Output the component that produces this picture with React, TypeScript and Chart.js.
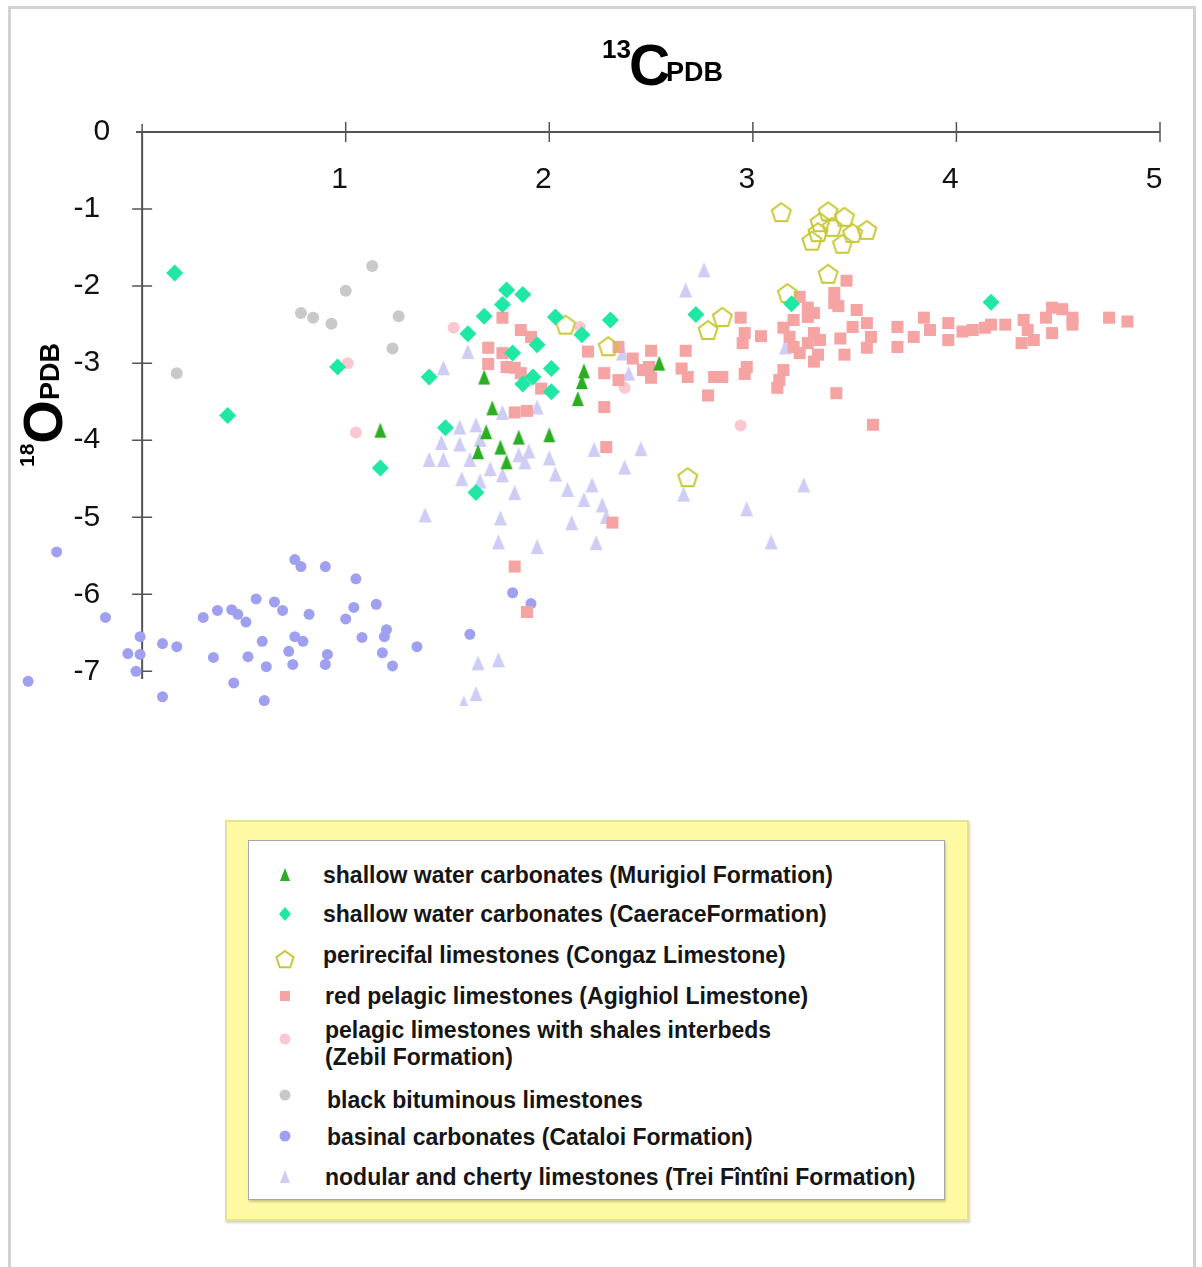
import React, { useEffect, useRef } from 'react';
import { Chart, registerables } from 'chart.js';

Chart.register(...registerables);

const FONT = '"Liberation Sans", Arial, Helvetica, sans-serif';

// ---- axis ticks ----
const xTicks = [1, 2, 3, 4, 5];
const yTicks = [0, -1, -2, -3, -4, -5, -6, -7];
const xMin = -0.6;
const xMax = 5;
const yMin = -7.45;
const yMax = 0;
const xAxisStart = -0.03;
const yAxisEnd = -7.1;

// ---- series names ----
const seriesNames = [
  'shallow water carbonates (Murigiol Formation)',
  'shallow water carbonates (CaeraceFormation)',
  'perirecifal limestones (Congaz Limestone)',
  'red pelagic limestones (Agighiol Limestone)',
  'pelagic limestones with shales interbeds (Zebil Formation)',
  'black bituminous limestones',
  'basinal carbonates (Cataloi Formation)',
  'nodular and cherty limestones (Trei Fîntîni Formation)',
];

// ---- data: [13C, 18O] ----
const murigiol = [
  [1.17, -3.87], [1.68, -3.18], [1.72, -3.58], [1.69, -3.89], [1.65, -4.15], [1.76, -4.09],
  [1.79, -4.28], [1.85, -3.96], [2.0, -3.93], [2.17, -3.1], [2.16, -3.24], [2.14, -3.46], [2.54, -3.0],
];

const caerace = [
  [0.16, -1.83], [0.42, -3.68], [0.96, -3.05], [1.17, -4.36], [1.41, -3.18], [1.49, -3.84],
  [1.6, -2.62], [1.68, -2.39], [1.79, -2.05], [1.87, -2.11], [1.77, -2.24], [1.82, -2.87],
  [1.94, -2.76], [1.87, -3.27], [1.92, -3.18], [2.01, -3.07], [2.01, -3.37], [2.03, -2.4],
  [2.16, -2.63], [2.3, -2.44], [2.72, -2.37], [3.19, -2.23], [4.17, -2.21], [1.64, -4.68],
];

const congaz = [
  [3.14, -1.04], [3.37, -1.03], [3.45, -1.1], [3.33, -1.17], [3.32, -1.3], [3.39, -1.23],
  [3.49, -1.31], [3.56, -1.27], [3.29, -1.41], [3.44, -1.45], [3.37, -1.84], [3.17, -2.09],
  [2.85, -2.4], [2.78, -2.57], [2.29, -2.78], [2.08, -2.5], [2.68, -4.48],
];

const agighiol = [
  [1.77, -2.41], [1.86, -2.57], [1.91, -2.66], [1.7, -2.8], [1.77, -2.87], [1.7, -3.01],
  [1.79, -3.05], [1.83, -3.06], [1.86, -3.13], [1.96, -3.33], [1.89, -3.62], [1.83, -3.64],
  [1.83, -5.64], [1.89, -6.23],
  [2.19, -2.85], [2.27, -3.13], [2.27, -3.57], [2.34, -2.79], [2.41, -2.94], [2.46, -3.09],
  [2.5, -2.84], [2.5, -3.19], [2.49, -3.05], [2.34, -3.22], [2.28, -4.09], [2.31, -5.07],
  [2.67, -2.84], [2.65, -3.07], [2.68, -3.18], [2.81, -3.18], [2.85, -3.18], [2.78, -3.42],
  [2.94, -2.41], [2.96, -2.61], [2.95, -2.74], [3.04, -2.65], [2.97, -3.05], [2.96, -3.14],
  [3.15, -2.54], [3.2, -2.44], [3.23, -2.14], [3.27, -2.28], [3.3, -2.35], [3.27, -2.4],
  [3.18, -2.66], [3.2, -2.79], [3.23, -2.87], [3.27, -2.74], [3.3, -2.61], [3.33, -2.7],
  [3.3, -2.98], [3.32, -2.89], [3.15, -3.09], [3.13, -3.22], [3.12, -3.32], [3.4, -2.09],
  [3.4, -2.22], [3.42, -2.26], [3.46, -1.93], [3.51, -2.31], [3.49, -2.53], [3.56, -2.48],
  [3.58, -2.66], [3.43, -2.68], [3.45, -2.89], [3.56, -2.8], [3.41, -3.39], [3.59, -3.8],
  [3.71, -2.53], [3.71, -2.79],
  [3.79, -2.66], [3.84, -2.41], [3.87, -2.57], [3.96, -2.48], [3.96, -2.7], [4.03, -2.59],
  [4.08, -2.57], [4.14, -2.54], [4.17, -2.5], [4.24, -2.5], [4.33, -2.44], [4.35, -2.57],
  [4.32, -2.74], [4.38, -2.7], [4.44, -2.41], [4.47, -2.28], [4.52, -2.3], [4.47, -2.61],
  [4.57, -2.41], [4.57, -2.5], [4.75, -2.41], [4.84, -2.46],
];

const zebil = [
  [1.01, -3.0], [1.05, -3.9], [1.53, -2.54], [2.15, -2.53], [2.37, -3.32], [2.94, -3.81],
];

const bituminous = [
  [0.17, -3.13], [0.78, -2.35], [0.84, -2.41], [0.93, -2.49], [1.0, -2.06], [1.13, -1.74],
  [1.26, -2.39], [1.23, -2.81],
];

const cataloi = [
  [-0.42, -5.45], [-0.18, -6.3], [-0.01, -6.55], [-0.07, -6.77], [-0.01, -6.78], [-0.03, -7.0],
  [-0.56, -7.13], [0.1, -6.64], [0.17, -6.68], [0.1, -7.33], [0.3, -6.3], [0.37, -6.21],
  [0.44, -6.2], [0.47, -6.26], [0.51, -6.36], [0.35, -6.82], [0.45, -7.15], [0.52, -6.81],
  [0.56, -6.06], [0.65, -6.1], [0.69, -6.21], [0.59, -6.61], [0.61, -6.94], [0.6, -7.38],
  [0.75, -5.55], [0.78, -5.64], [0.9, -5.64], [0.82, -6.26], [0.75, -6.55], [0.79, -6.61],
  [0.72, -6.74], [0.74, -6.91], [0.91, -6.78], [0.9, -6.91], [1.05, -5.8], [1.04, -6.17],
  [1.0, -6.32], [1.15, -6.13], [1.08, -6.56], [1.2, -6.46], [1.19, -6.55], [1.18, -6.76],
  [1.23, -6.93], [1.35, -6.68], [1.61, -6.52], [1.82, -5.98], [1.91, -6.12],
];

const treiFintini = [
  [1.48, -3.06], [1.6, -2.85], [1.77, -3.64], [1.94, -3.57], [1.56, -3.83], [1.64, -3.8],
  [1.47, -4.03], [1.56, -4.05], [1.41, -4.25], [1.48, -4.25], [1.61, -4.25], [1.66, -3.99],
  [1.71, -4.37], [1.77, -4.45], [1.57, -4.5], [1.66, -4.53], [1.83, -4.68], [1.85, -4.19],
  [1.9, -4.14], [1.88, -4.28], [2.0, -4.23], [2.03, -4.44], [2.09, -4.64], [2.17, -4.77],
  [2.21, -4.58], [2.22, -4.12], [2.26, -4.84], [2.28, -4.99], [2.11, -5.07], [2.23, -5.33],
  [1.76, -5.01], [1.75, -5.32], [1.94, -5.38], [1.39, -4.97], [2.45, -4.11], [2.37, -4.35],
  [2.36, -2.87], [2.39, -3.13], [2.76, -1.79], [2.67, -2.05], [3.16, -2.79], [2.66, -4.7],
  [2.97, -4.89], [3.09, -5.32], [3.25, -4.58], [1.65, -6.89], [1.75, -6.85], [1.64, -7.29],
  [1.58, -7.41],
];

// ---- colours ----
const C_MURIGIOL = '#2cae24';
const C_CAERACE = '#1fe8a5';
const C_CONGAZ = '#c8c836';
const C_AGIGHIOL = '#f6a3a3';
const C_ZEBIL = '#fbc8d2';
const C_BITUM = '#c9c9c9';
const C_CATALOI = '#a0a0f0';
const C_TREI = '#cdcdf5';

function makeTriangle(color: string, w: number, h: number) {
  const c = document.createElement('canvas');
  c.width = w + 2;
  c.height = h + 2;
  const g = c.getContext('2d')!;
  g.fillStyle = color;
  g.beginPath();
  g.moveTo(c.width / 2, 1);
  g.lineTo(c.width - 1, h + 1);
  g.lineTo(1, h + 1);
  g.closePath();
  g.fill();
  return c;
}

function makePentagon(color: string, r: number) {
  const size = Math.ceil(r * 2 + 4);
  const c = document.createElement('canvas');
  c.width = size;
  c.height = size;
  const g = c.getContext('2d')!;
  g.strokeStyle = color;
  g.lineWidth = 2;
  g.beginPath();
  for (let i = 0; i < 5; i++) {
    const a = -Math.PI / 2 + (i * 2 * Math.PI) / 5;
    const px = size / 2 + r * Math.cos(a);
    const py = size / 2 + 1 + r * Math.sin(a);
    if (i === 0) g.moveTo(px, py);
    else g.lineTo(px, py);
  }
  g.closePath();
  g.stroke();
  return c;
}

const crossAxesPlugin = {
  id: 'crossAxes',
  beforeDatasetsDraw(chart: any) {
    const { ctx, scales } = chart;
    const xs = scales.x;
    const ys = scales.y;
    const x0 = xs.getPixelForValue(0);
    const y0 = ys.getPixelForValue(0);
    ctx.save();
    ctx.strokeStyle = '#555555';
    ctx.lineWidth = 2;
    ctx.beginPath();
    ctx.moveTo(xs.getPixelForValue(xAxisStart), y0);
    ctx.lineTo(xs.getPixelForValue(xMax), y0);
    ctx.moveTo(x0, y0);
    ctx.lineTo(x0, ys.getPixelForValue(yAxisEnd));
    ctx.stroke();
    ctx.lineWidth = 1.5;
    ctx.beginPath();
    xTicks.forEach((v) => {
      const p = xs.getPixelForValue(v);
      ctx.moveTo(p, y0 - 10);
      ctx.lineTo(p, y0 + 10);
    });
    ctx.moveTo(x0, y0 - 8);
    ctx.lineTo(x0, y0);
    yTicks.forEach((v) => {
      if (v === 0) return;
      const p = ys.getPixelForValue(v);
      ctx.moveTo(x0 - 10, p);
      ctx.lineTo(x0 + 10, p);
    });
    ctx.stroke();
    // y tick labels, to the left of the y axis
    ctx.fillStyle = '#111111';
    ctx.font = `30px ${FONT}`;
    ctx.textAlign = 'right';
    ctx.textBaseline = 'middle';
    yTicks.forEach((v) => {
      const p = ys.getPixelForValue(v);
      const gap = v === 0 ? 32 : 42;
      ctx.fillText(String(v), x0 - gap, p);
    });
    ctx.restore();
  },
};

const toPts = (a: number[][]) => a.map(([x, y]) => ({ x, y }));

function LegendMarker({ kind, color, cy }: { kind: string; color: string; cy: number }) {
  const s = 24;
  let shape: any = null;
  if (kind === 'tri') shape = <polygon points="12,5 17,18 7,18" fill={color} />;
  else if (kind === 'diamond') shape = <polygon points="12,5 18,12 12,19 6,12" fill={color} />;
  else if (kind === 'pent') {
    const pts: string[] = [];
    for (let i = 0; i < 5; i++) {
      const a = -Math.PI / 2 + (i * 2 * Math.PI) / 5;
      pts.push(`${(12 + 9 * Math.cos(a)).toFixed(2)},${(13 + 9 * Math.sin(a)).toFixed(2)}`);
    }
    shape = <polygon points={pts.join(' ')} fill="none" stroke={color} strokeWidth={2} />;
  } else if (kind === 'square') shape = <rect x={7} y={7} width={10} height={10} fill={color} />;
  else if (kind === 'circle') shape = <circle cx={12} cy={12} r={5.5} fill={color} />;
  return (
    <svg
      width={s}
      height={s}
      style={{ position: 'absolute', left: 285 - s / 2, top: cy - s / 2 }}
    >
      {shape}
    </svg>
  );
}

function LegendText({ text, left, cy }: { text: string; left: number; cy: number }) {
  return (
    <div
      style={{
        position: 'absolute',
        left,
        top: cy - 14,
        height: 28,
        lineHeight: '28px',
        fontFamily: FONT,
        fontWeight: 'bold',
        fontSize: 23,
        color: '#151515',
        whiteSpace: 'nowrap',
      }}
    >
      {text}
    </div>
  );
}

export default function App() {
  const ref = useRef<HTMLCanvasElement>(null);

  useEffect(() => {
    const canvas = ref.current;
    if (!canvas) return;
    const pent = makePentagon(C_CONGAZ, 10);
    const triG = makeTriangle(C_MURIGIOL, 12, 15);
    const triL = makeTriangle(C_TREI, 13, 15);

    const chart = new Chart(canvas, {
      type: 'scatter',
      data: {
        datasets: [
          { label: seriesNames[0], data: toPts(murigiol), pointStyle: triG as any, pointRadius: 7, backgroundColor: C_MURIGIOL, borderWidth: 0 },
          { label: seriesNames[1], data: toPts(caerace), pointStyle: 'rectRot', pointRadius: 8.5, backgroundColor: C_CAERACE, borderWidth: 0 },
          { label: seriesNames[2], data: toPts(congaz), pointStyle: pent as any, pointRadius: 10, backgroundColor: 'rgba(0,0,0,0)', borderWidth: 0 },
          { label: seriesNames[3], data: toPts(agighiol), pointStyle: 'rect', pointRadius: 8.5, backgroundColor: C_AGIGHIOL, borderWidth: 0 },
          { label: seriesNames[4], data: toPts(zebil), pointStyle: 'circle', pointRadius: 6, backgroundColor: C_ZEBIL, borderWidth: 0 },
          { label: seriesNames[5], data: toPts(bituminous), pointStyle: 'circle', pointRadius: 6, backgroundColor: C_BITUM, borderWidth: 0 },
          { label: seriesNames[6], data: toPts(cataloi), pointStyle: 'circle', pointRadius: 5.5, backgroundColor: C_CATALOI, borderWidth: 0 },
          { label: seriesNames[7], data: toPts(treiFintini), pointStyle: triL as any, pointRadius: 7, backgroundColor: C_TREI, borderWidth: 0 },
        ] as any,
      },
      options: {
        responsive: false,
        animation: false,
        events: [],
        layout: { padding: { left: 20, right: 42, top: 132, bottom: 54 } },
        plugins: {
          legend: { display: false },
          tooltip: { enabled: false },
          title: { display: false },
        },
        scales: {
          x: {
            type: 'linear',
            min: xMin,
            max: xMax,
            position: { y: 0 } as any,
            grid: { display: false, drawTicks: false },
            border: { display: false },
            ticks: {
              autoSkip: false,
              padding: 30,
              labelOffset: -6,
              color: '#111111',
              font: { family: FONT, size: 30 },
              callback: (v: any) => String(v),
            },
            afterBuildTicks: (s: any) => {
              s.ticks = xTicks.map((value) => ({ value }));
            },
            afterFit: (s: any) => {
              s.height = 0;
            },
          },
          y: {
            type: 'linear',
            min: yMin,
            max: yMax,
            position: { x: 0 } as any,
            grid: { display: false, drawTicks: false },
            border: { display: false },
            ticks: { display: false },
            afterBuildTicks: (s: any) => {
              s.ticks = yTicks.map((value) => ({ value }));
            },
            afterFit: (s: any) => {
              s.width = 0;
            },
          },
        },
      } as any,
      plugins: [crossAxesPlugin],
    });
    return () => chart.destroy();
  }, []);

  return (
    <div
      style={{
        position: 'absolute',
        left: 0,
        top: 0,
        width: 1202,
        height: 1267,
        background: '#ffffff',
        overflow: 'hidden',
      }}
    >
      {/* frame */}
      <div
        style={{
          position: 'absolute',
          left: 8,
          top: 6,
          width: 1188,
          height: 1300,
          border: '3px solid #d2d2d2',
          boxSizing: 'border-box',
        }}
      />
      <canvas
        ref={ref}
        width={1202}
        height={760}
        style={{ position: 'absolute', left: 0, top: 0, width: 1202, height: 760 }}
      />
      {/* x-axis title */}
      <div style={{ position: 'absolute', left: 0, top: 0, fontFamily: FONT, fontWeight: 'bold', color: '#000', lineHeight: 1 }}>
        <span style={{ position: 'absolute', left: 602, top: 36, fontSize: 26, whiteSpace: 'nowrap' }}>13</span>
        <span style={{ position: 'absolute', left: 629, top: 37, fontSize: 57, whiteSpace: 'nowrap' }}>C</span>
        <span style={{ position: 'absolute', left: 666, top: 59, fontSize: 27, whiteSpace: 'nowrap' }}>PDB</span>
      </div>
      {/* y-axis title */}
      <div
        style={{
          position: 'absolute',
          left: 43,
          top: 405,
          transform: 'translate(-50%, -50%) rotate(-90deg)',
          fontFamily: FONT,
          fontWeight: 'bold',
          fontSize: 56,
          lineHeight: 1,
          whiteSpace: 'nowrap',
          color: '#000',
        }}
      >
        <span style={{ fontSize: 21, position: 'relative', top: -28 }}>18</span>
        <span style={{ fontSize: 56 }}>O</span>
        <span style={{ fontSize: 27, position: 'relative', top: -3 }}>PDB</span>
      </div>
      {/* legend */}
      <div
        style={{
          position: 'absolute',
          left: 225,
          top: 820,
          width: 744,
          height: 401,
          background: '#fefaa4',
          border: '2px solid #e6e29c',
          boxSizing: 'border-box',
          boxShadow: '1px 2px 2px rgba(0,0,0,0.18)',
        }}
      />
      <div
        style={{
          position: 'absolute',
          left: 248,
          top: 840,
          width: 697,
          height: 360,
          background: '#ffffff',
          border: '1px solid #a8a8a8',
          boxSizing: 'border-box',
          boxShadow: '1px 2px 2px rgba(0,0,0,0.2)',
        }}
      />
      <LegendMarker kind="tri" color={C_MURIGIOL} cy={875} />
      <LegendText text={seriesNames[0]} left={323} cy={875} />
      <LegendMarker kind="diamond" color={C_CAERACE} cy={914} />
      <LegendText text={seriesNames[1]} left={323} cy={914} />
      <LegendMarker kind="pent" color={C_CONGAZ} cy={959} />
      <LegendText text={seriesNames[2]} left={323} cy={955} />
      <LegendMarker kind="square" color={C_AGIGHIOL} cy={996} />
      <LegendText text={seriesNames[3]} left={325} cy={996} />
      <LegendMarker kind="circle" color={C_ZEBIL} cy={1039} />
      <LegendText text="pelagic limestones with shales interbeds" left={325} cy={1030} />
      <LegendText text="(Zebil Formation)" left={325} cy={1057} />
      <LegendMarker kind="circle" color={C_BITUM} cy={1095} />
      <LegendText text={seriesNames[5]} left={327} cy={1100} />
      <LegendMarker kind="circle" color={C_CATALOI} cy={1136} />
      <LegendText text={seriesNames[6]} left={327} cy={1137} />
      <LegendMarker kind="tri" color={C_TREI} cy={1177} />
      <LegendText text={seriesNames[7]} left={325} cy={1177} />
    </div>
  );
}
